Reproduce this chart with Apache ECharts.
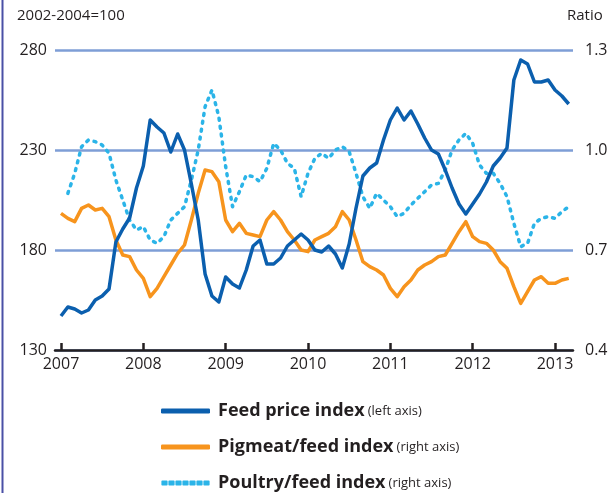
<!DOCTYPE html>
<html>
<head>
<meta charset="utf-8">
<script src="https://cdn.jsdelivr.net/npm/echarts@6/dist/echarts.min.js"></script>
<style>
html,body{margin:0;padding:0;background:#fff;}
#c{width:611px;height:493px;}
</style>
</head>
<body>
<div id="c"></div>
<script>
// Monthly data, Jan 2007 .. Mar 2013
const yearLabels = ['2007','2008','2009','2010','2011','2012','2013'];
const seriesNames = ['Feed price index', 'Pigmeat/feed index', 'Poultry/feed index'];
const seriesNotes = ['(left axis)', '(right axis)', '(right axis)'];
const leftTicks = [130, 180, 230, 280];
const rightTicks = [0.4, 0.7, 1.0, 1.3];

const feedIndex = [147,151.5,150.5,148.5,150,155,157,160.5,184,190.5,196,211,
  222,245,241.5,238.5,229,238,230,213,195,168,157,154,
  166.5,163,161,170,182,185,173,173,176,182,185,188,
  185,180,179,182,178,171,183,201,217,221,223.5,235,
  245,251,245,249.5,243,236,230,228,220,211,203,198,
  203,208,214,222,226,231,265,275,273,264,264,265,
  260,257,253];
const pigmeatFeed = [0.81,0.795,0.785,0.825,0.835,0.82,0.825,0.80,0.73,0.685,0.68,0.64,
  0.615,0.56,0.585,0.62,0.655,0.69,0.715,0.79,0.87,0.94,0.935,0.905,
  0.79,0.755,0.78,0.75,0.745,0.74,0.79,0.815,0.79,0.755,0.73,0.70,
  0.695,0.73,0.74,0.75,0.77,0.815,0.79,0.73,0.665,0.65,0.64,0.625,
  0.585,0.56,0.59,0.61,0.64,0.655,0.665,0.68,0.685,0.72,0.755,0.785,
  0.74,0.725,0.72,0.70,0.665,0.645,0.59,0.54,0.575,0.61,0.62,0.60,
  0.60,0.61,0.615];
const poultryFeed = [null,0.87,0.93,1.01,1.03,1.025,1.015,0.99,0.91,0.85,0.79,0.76,
  0.77,0.73,0.72,0.74,0.79,0.81,0.83,0.91,1.0,1.13,1.18,1.1,
  0.95,0.83,0.875,0.925,0.92,0.905,0.945,1.02,1.0,0.96,0.945,0.86,
  0.93,0.975,0.99,0.975,1.0,1.01,0.995,0.93,0.86,0.825,0.87,0.85,
  0.83,0.8,0.81,0.835,0.855,0.875,0.895,0.9,0.94,1.0,1.03,1.05,
  1.02,0.955,0.93,0.93,0.9,0.86,0.78,0.71,0.72,0.78,0.795,0.80,
  0.795,0.815,0.83];

const FONT = 'Open Sans';
const TXT = '#231f20';
const C_FEED = '#0b5fae', C_PIG = '#f7941d', C_POUL = '#2bb4e8';
const toPairs = arr => arr.map((v, i) => [i, v == null ? '-' : v]);
const yearTickIdx = yearLabels.map((y, k) => k * 12);

// dashed legend icon (styling only)
let dashPath = 'path://';
for (let k = 0; k < 7; k++) {
  const x0 = k * 7;
  dashPath += 'M' + x0 + ',0h4.6a0.8,0.8 0 0 1 0.8,0.8v3.4a0.8,0.8 0 0 1 -0.8,0.8h-4.6a0.8,0.8 0 0 1 -0.8,-0.8v-3.4a0.8,0.8 0 0 1 0.8,-0.8z';
}

const chart = echarts.init(document.getElementById('c'), null, {renderer: 'canvas'});
chart.setOption({
  animation: false,
  backgroundColor: '#fff',
  textStyle: {fontFamily: FONT, color: TXT},
  grid: {left: 55, right: 38, top: 50, bottom: 143},
  graphic: [
    {type: 'line', shape: {x1: 2.5, y1: 0, x2: 2.5, y2: 493}, style: {stroke: '#4a50a6', lineWidth: 2}},
    {type: 'text', left: 17, top: 8, style: {text: '2002-2004=100', font: '15px "Open Sans"', fill: TXT}},
    {type: 'text', left: 567, top: 8, style: {text: 'Ratio', font: '15px "Open Sans"', fill: TXT}}
  ],
  xAxis: {
    type: 'value',
    min: -0.874, max: 74.62,
    splitLine: {show: false},
    axisLine: {show: true, onZero: false, lineStyle: {color: TXT, width: 2.5}},
    axisTick: {show: true, inside: true, length: 7, customValues: yearTickIdx, lineStyle: {color: TXT, width: 2.5}},
    axisLabel: {customValues: yearTickIdx, margin: 6, fontSize: 16, color: TXT, fontFamily: FONT,
      formatter: v => yearLabels[Math.round(v / 12)] || ''}
  },
  yAxis: [
    {
      type: 'value', min: 130, max: 280, interval: 50, position: 'left',
      axisLine: {show: false}, axisTick: {show: false},
      axisLabel: {margin: 8, fontSize: 16, color: TXT, fontFamily: FONT, customValues: leftTicks},
      splitLine: {show: true, lineStyle: {color: '#7e9ed6', width: 2.5}},
      splitArea: {show: false}
    },
    {
      type: 'value', min: 0.4, max: 1.3, position: 'right',
      axisLine: {show: false}, axisTick: {show: false},
      axisLabel: {margin: 12, fontSize: 16, color: TXT, fontFamily: FONT, customValues: rightTicks,
        formatter: v => v.toFixed(1)},
      splitLine: {show: false}
    }
  ],
  legend: {
    orient: 'vertical', left: 161, top: 402, height: 120, padding: 0,
    itemWidth: 49, itemHeight: 5, itemGap: 18,
    data: [
      {name: seriesNames[0], icon: 'roundRect'},
      {name: seriesNames[1], icon: 'roundRect'},
      {name: seriesNames[2], icon: dashPath}
    ],
    textStyle: {
      fontFamily: FONT,
      padding: [0, 0, 0, 3],
      rich: {
        b: {fontSize: 18, fontWeight: 'bold', color: TXT, fontFamily: FONT},
        s: {fontSize: 13, color: TXT, fontFamily: FONT}
      }
    },
    formatter: name => '{b|' + name + '} {s|' + seriesNotes[seriesNames.indexOf(name)] + '}'
  },
  series: [
    {
      name: seriesNames[0], type: 'line', yAxisIndex: 0, data: toPairs(feedIndex),
      symbol: 'none', z: 4,
      lineStyle: {color: C_FEED, width: 3.5, join: 'round'},
      itemStyle: {color: C_FEED}
    },
    {
      name: seriesNames[1], type: 'line', yAxisIndex: 1, data: toPairs(pigmeatFeed),
      symbol: 'none', z: 3,
      lineStyle: {color: C_PIG, width: 3.5, join: 'round'},
      itemStyle: {color: C_PIG}
    },
    {
      name: seriesNames[2], type: 'line', yAxisIndex: 1, data: toPairs(poultryFeed),
      symbol: 'none', z: 2,
      lineStyle: {color: C_POUL, width: 3.5, type: [2, 6], cap: 'round', join: 'round'},
      itemStyle: {color: C_POUL}
    }
  ]
});
</script>
</body>
</html>
